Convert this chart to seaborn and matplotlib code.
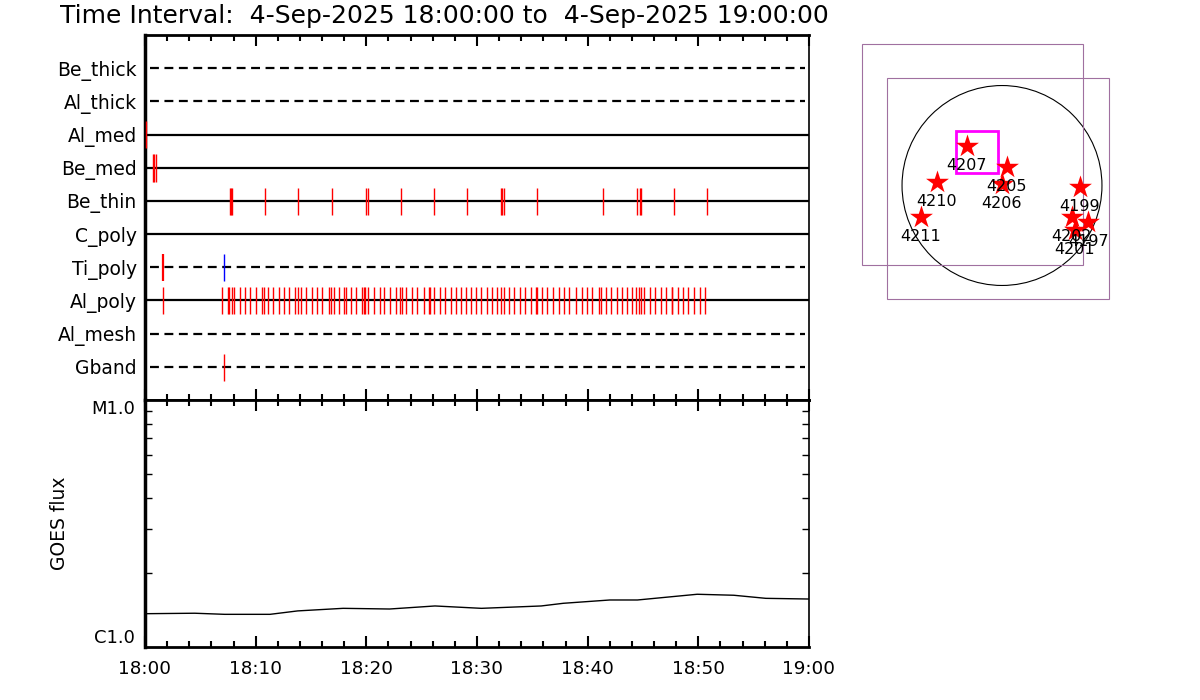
import numpy as np
import pandas as pd
import matplotlib
matplotlib.use('Agg')
import matplotlib.pyplot as plt
import seaborn as sns
from matplotlib.patches import Circle, Rectangle
from matplotlib.ticker import MultipleLocator, FixedLocator, NullFormatter

# --- data ---------------------------------------------------------------
title = 'Time Interval:  4-Sep-2025 18:00:00 to  4-Sep-2025 19:00:00'

# filter rows, top to bottom
rows = ['Be_thick', 'Al_thick', 'Al_med', 'Be_med', 'Be_thin',
        'C_poly', 'Ti_poly', 'Al_poly', 'Al_mesh', 'Gband']
row_dashed = [True, True, False, False, False, False, True, False, True, True]

# event times (minutes after 18:00)
ev_al_med = [0.12]
ev_be_med = [0.72, 0.82, 0.99]
ev_be_thin = [7.68, 7.77, 7.86, 10.87, 13.85, 16.92, 20.0, 20.18, 23.16, 26.14,
              29.12, 32.2, 32.29, 32.47, 35.39, 41.41, 44.48, 44.76, 44.86,
              47.83, 50.81]
ev_ti_poly_red = [1.6]
ev_ti_poly_blue = [7.17]
ev_al_poly = [1.6, 6.98, 7.5, 7.58, 7.86, 8.04, 8.58, 9.06, 9.51, 10.0, 10.54,
              10.73, 11.09, 11.57, 12.11, 12.56, 13.04, 13.58, 13.8, 14.07,
              14.55, 15.06, 15.57, 16.02, 16.63, 16.81, 17.1, 17.56, 18.01,
              18.16, 18.61, 19.09, 19.61, 19.76, 19.91, 20.18, 20.66, 21.21,
              21.62, 22.17, 22.65, 23.07, 23.19, 23.61, 24.13, 24.6, 25.18,
              25.63, 25.75, 26.09, 26.66, 27.13, 27.65, 28.1, 28.58, 29.02,
              29.43, 29.91, 30.36, 30.88, 31.38, 31.83, 32.17, 32.44, 32.86,
              33.37, 33.91, 34.34, 34.85, 35.35, 35.42, 35.85, 36.35, 36.87,
              37.44, 37.89, 38.34, 38.97, 39.46, 39.97, 40.42, 41.02, 41.2,
              41.63, 42.13, 42.62, 43.07, 43.58, 44.03, 44.39, 44.61, 44.79,
              45.12, 45.63, 46.11, 46.6, 47.1, 47.58, 47.66, 48.13, 48.64,
              49.09, 49.63, 50.12, 50.63]
ev_gband = [7.14]

# GOES flux curve
goes_t = [0, 4.5, 7.2, 11.3, 13.8, 17.9, 22.1, 26.2, 30.4, 35.8, 37.8, 42.0,
          44.5, 49.9, 53.2, 56.1, 60]
goes_flux = [1.364e-6, 1.37e-6, 1.356e-6, 1.356e-6, 1.40e-6, 1.434e-6,
             1.425e-6, 1.466e-6, 1.434e-6, 1.466e-6, 1.503e-6, 1.55e-6,
             1.55e-6, 1.635e-6, 1.62e-6, 1.574e-6, 1.564e-6]
time_ticks = [0, 10, 20, 30, 40, 50, 60]
time_labels = ['18:00', '18:10', '18:20', '18:30', '18:40', '18:50', '19:00']

# active regions on the disk (arcsec)
ar_names = ['4207', '4205', '4206', '4210', '4211', '4199', '4202', '4197', '4201']
ar_x = [-337, 45, -3, -622, -772, 743, 664, 822, 696]
ar_y = [377, 180, 11, 36, -297, -11, -297, -345, -424]
fov_x = [-283, -38]
fov_y = [297, -27]
fov_size = 2112
box_x, box_y, box_size = -235, 320, 400
r_sun = 953

# --- figure -------------------------------------------------------------
sns.set_style('white')
plt.rcParams['font.family'] = ['DejaVu Sans']
plt.rcParams['text.color'] = 'black'
plt.rcParams['axes.labelcolor'] = 'black'
plt.rcParams['xtick.color'] = 'black'
plt.rcParams['ytick.color'] = 'black'

fig = plt.figure(figsize=(12, 7), dpi=100)
ax1 = fig.add_axes([145/1200, 300/700, 664/1200, 365/700])
ax2 = fig.add_axes([145/1200, 53/700, 664/1200, 247/700])
ax3 = fig.add_axes([852/1200, 364.5/700, 300/1200, 300/700])

fig.text(60/1200, 1 - 16/700, title, fontsize=18, va='center', ha='left')

# top panel: filter rows
n = len(rows)
ypos = [n - i for i in range(n)]
for y, dashed in zip(ypos, row_dashed):
    if dashed:
        ax1.plot([0.45, 59.6], [y, y], color='black', lw=1.6,
                 linestyle=(0, (4, 2.5)))
    else:
        ax1.plot([0, 60], [y, y], color='black', lw=1.6)

events = {
    'Al_med': (ev_al_med, 'red'),
    'Be_med': (ev_be_med, 'red'),
    'Be_thin': (ev_be_thin, 'red'),
    'Al_poly': (ev_al_poly, 'red'),
    'Gband': (ev_gband, 'red'),
}
for name, (times, col) in events.items():
    y = ypos[rows.index(name)]
    ax1.vlines(times, y - 0.42, y + 0.4, color=col, lw=1.0, zorder=5,
               clip_on=False)
y = ypos[rows.index('Ti_poly')]
ax1.vlines(ev_ti_poly_red, y - 0.42, y + 0.4, color='red', lw=1.6)
ax1.vlines(ev_ti_poly_blue, y - 0.42, y + 0.4, color='blue', lw=1.0)

ax1.set_xlim(0, 60)
ax1.set_ylim(0, n + 1)
ax1.set_yticks(ypos)
ax1.set_yticklabels(rows, fontsize=13.5)
ax1.tick_params(axis='y', length=0, pad=6)
ax1.set_xticks(time_ticks)
ax1.xaxis.set_minor_locator(MultipleLocator(2))
ax1.tick_params(axis='x', which='both', direction='in', top=True, bottom=True,
                labelbottom=False, width=1.5)
ax1.tick_params(axis='x', which='major', length=8)
ax1.tick_params(axis='x', which='minor', length=4)
for side, w in [('left', 2.5), ('top', 2), ('right', 1.2), ('bottom', 2)]:
    ax1.spines[side].set_linewidth(w)
    ax1.spines[side].set_color('black')

# GOES panel
df_goes = pd.DataFrame({'t': goes_t, 'flux': goes_flux})
sns.lineplot(data=df_goes, x='t', y='flux', ax=ax2, color='black', lw=1.0)
ax2.set_yscale('log')
ax2.set_ylim(1e-6, 1e-5)
ax2.set_xlim(0, 60)
ax2.yaxis.set_major_locator(FixedLocator([1e-6, 1e-5]))
ax2.yaxis.set_minor_locator(FixedLocator([k * 1e-6 for k in range(2, 10)]))
ax2.yaxis.set_minor_formatter(NullFormatter())
ax2.set_yticklabels(['C1.0', 'M1.0'], fontsize=13)
ylabs = ax2.get_yticklabels()
ylabs[0].set_va('bottom')
ylabs[1].set_va('top')
ax2.tick_params(axis='y', which='both', direction='in', left=True, right=True,
                pad=7, width=1)
ax2.tick_params(axis='y', which='minor', length=5)
ax2.tick_params(axis='y', which='major', length=0)
ax2.set_xticks(time_ticks)
ax2.set_xticklabels(time_labels, fontsize=13.2)
ax2.xaxis.set_minor_locator(MultipleLocator(2))
ax2.tick_params(axis='x', which='both', direction='in', top=True, bottom=True,
                width=1.5, pad=9)
ax2.tick_params(axis='x', which='major', length=8)
ax2.tick_params(axis='x', which='minor', length=4)
ax2.set_xlabel('')
ax2.set_ylabel('GOES flux', fontsize=13.5)
ax2.yaxis.set_label_coords(-0.115, 0.5)
for side, w in [('left', 2.5), ('top', 2), ('right', 1.2), ('bottom', 2)]:
    ax2.spines[side].set_linewidth(w)
    ax2.spines[side].set_color('black')

# solar disk panel
ax3.set_xlim(-1430, 1430)
ax3.set_ylim(-1430, 1430)
ax3.set_aspect('equal')
ax3.axis('off')
ax3.add_patch(Circle((0, 0), r_sun, fill=False, color='black', lw=0.8))
for cx, cy in zip(fov_x, fov_y):
    ax3.add_patch(Rectangle((cx - fov_size / 2, cy - fov_size / 2), fov_size,
                            fov_size, fill=False, ec='#a070a0', lw=0.8))
ax3.add_patch(Rectangle((box_x - box_size / 2, box_y - box_size / 2), box_size,
                        box_size, fill=False, ec='#ff00ff', lw=2.0))
df_ar = pd.DataFrame({'x': ar_x, 'y': ar_y, 'name': ar_names})
sns.scatterplot(data=df_ar, x='x', y='y', ax=ax3, marker='*', s=300,
                color='red', edgecolor='red', linewidth=0, zorder=3)
for name, x, y in zip(ar_names, ar_x, ar_y):
    ax3.annotate(name, (x, y), xytext=(0, -14), textcoords='offset points',
                 ha='center', va='center', fontsize=11.5, zorder=4)

plt.savefig('out.png', dpi=100)
